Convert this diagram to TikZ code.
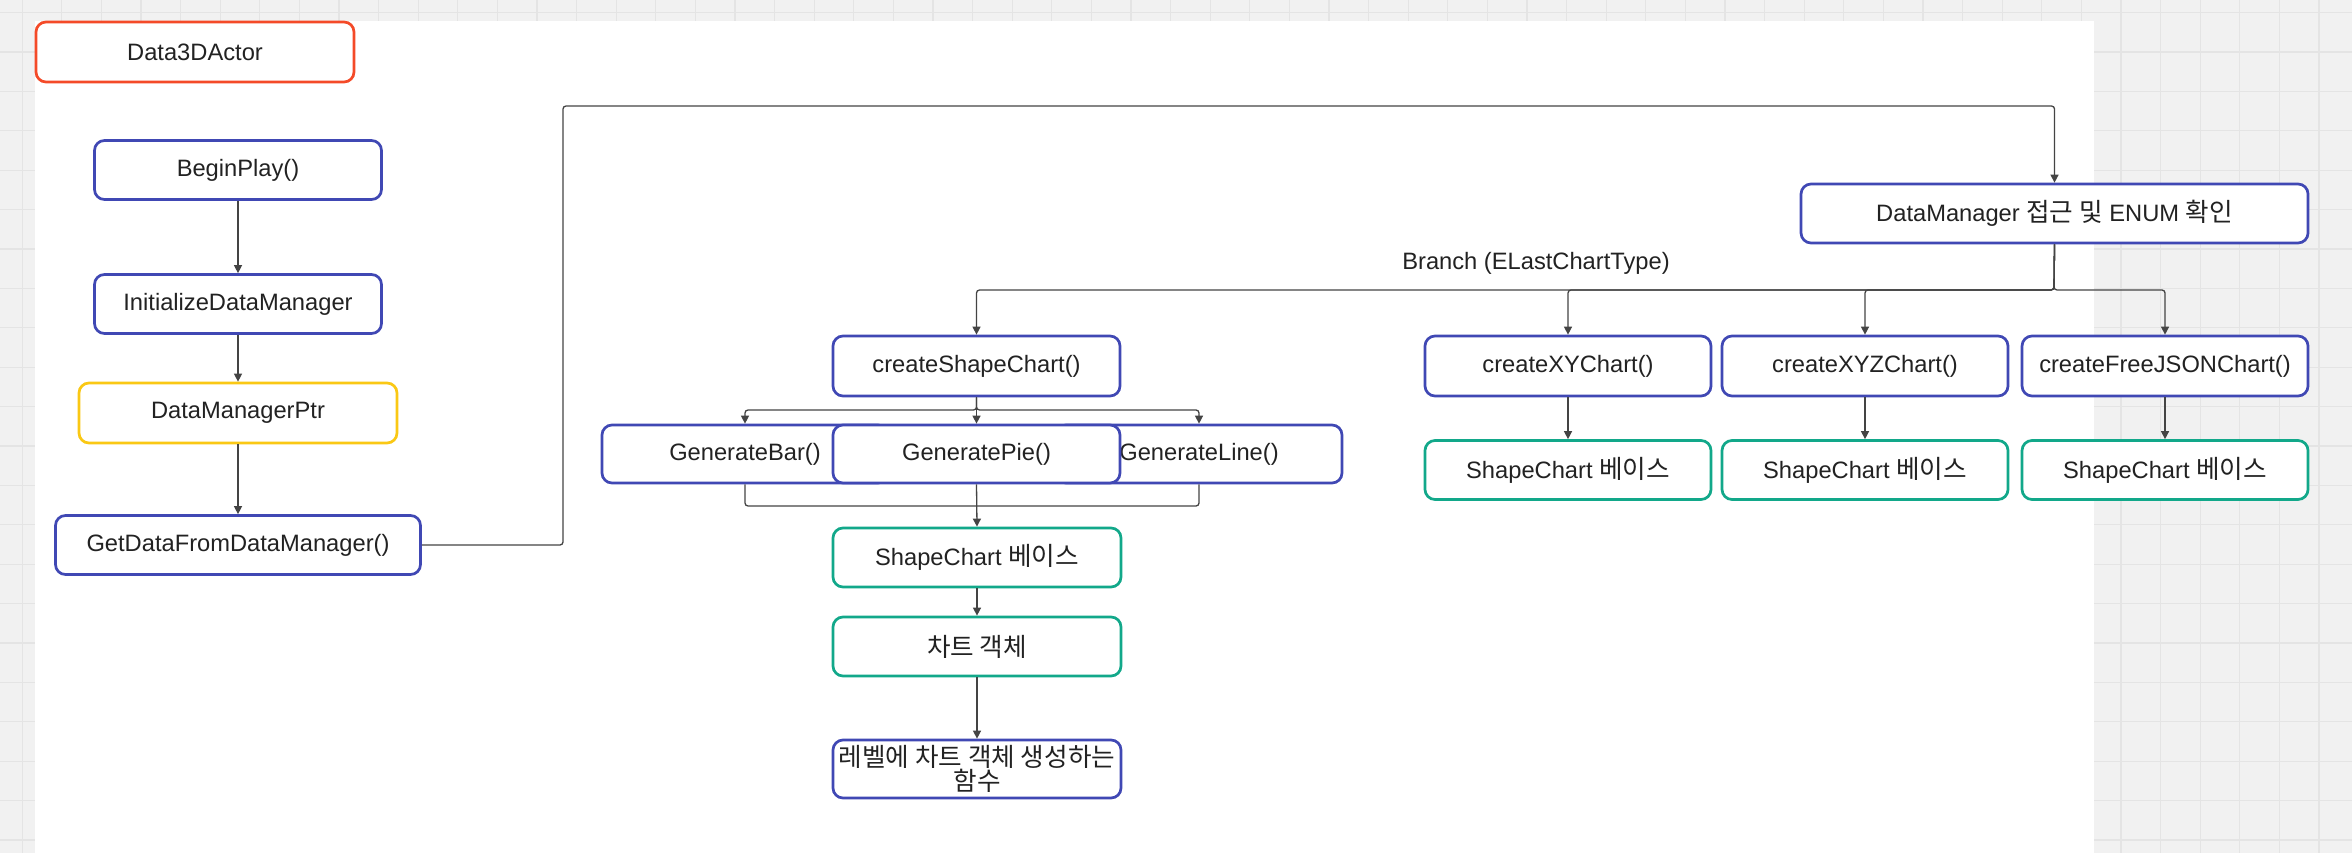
\documentclass[tikz,border=0pt]{standalone}
\usepackage{fontspec}
\setmainfont{Liberation Sans}
\newfontfamily\kr[Scale=1.08]{Noto Sans CJK KR}
\usetikzlibrary{arrows.meta}
\definecolor{cred}{HTML}{F44A28}
\definecolor{cblue}{HTML}{4048B4}
\definecolor{cyel}{HTML}{FAC814}
\definecolor{cgreen}{HTML}{12A88A}
\definecolor{cline}{HTML}{444444}
\definecolor{ctxt}{HTML}{222222}
\definecolor{bggrey}{HTML}{F1F1F1}
\definecolor{gridgrey}{HTML}{E4E4E4}
\tikzset{
  box/.style={draw, rounded corners=10pt, line width=2.7pt, fill=white,
    minimum height=59pt, inner sep=0pt, align=center, text=ctxt,
    font=\fontsize{23.7}{26}\selectfont},
  bluebox/.style={box, draw=cblue},
  redbox/.style={box, draw=cred},
  yelbox/.style={box, draw=cyel},
  greenbox/.style={box, draw=cgreen},
  conn/.style={draw=cline, line width=1.3pt, rounded corners=3pt,
    -{Triangle[length=8pt,width=8pt]}},
  plain/.style={draw=cline, line width=1.3pt, rounded corners=3pt},
}
\begin{document}
\begin{tikzpicture}[x=1pt,y=-1pt]
\useasboundingbox (0,0) rectangle (2352,853);
% background grid
\fill[bggrey] (0,0) rectangle (2352,853);
\foreach \i in {0,...,59} \draw[gridgrey, line width=1.2pt] (22.2+\i*39.6,0) -- (22.2+\i*39.6,853);
\foreach \j in {0,...,21} \draw[gridgrey, line width=1.2pt] (0,12.6+\j*39.4) -- (2352,12.6+\j*39.4);
% white panel
\fill[white] (35,21) rectangle (2094,853);

% left column
\node[redbox, minimum width=318pt, minimum height=60pt] (actor) at (195,52) {Data3DActor};
\node[bluebox, minimum width=287pt] (begin) at (238,170) {BeginPlay()};
\node[bluebox, minimum width=287pt] (init) at (238,304) {InitializeDataManager};
\node[yelbox, minimum width=318pt, minimum height=60pt] (ptr) at (238,413) {DataManagerPtr};
\node[bluebox, minimum width=365pt] (getdata) at (238,545) {GetDataFromDataManager()};

% data manager
\node[bluebox, minimum width=507pt] (dm) at (2054.5,213.5) {DataManager {\kr 접근 및} ENUM {\kr 확인}};

% chart creators
\node[bluebox, minimum width=287pt, minimum height=60pt] (csc) at (976.5,366) {createShapeChart()};
\node[bluebox, minimum width=286pt, minimum height=60pt] (cxy) at (1568,366) {createXYChart()};
\node[bluebox, minimum width=286pt, minimum height=60pt] (cxyz) at (1865,366) {createXYZChart()};
\node[bluebox, minimum width=286pt, minimum height=60pt] (cjson) at (2165,366) {createFreeJSONChart()};

\node[greenbox, minimum width=286pt] (sc1) at (1568,470) {ShapeChart {\kr 베이스}};
\node[greenbox, minimum width=286pt] (sc2) at (1865,470) {ShapeChart {\kr 베이스}};
\node[greenbox, minimum width=286pt] (sc3) at (2165,470) {ShapeChart {\kr 베이스}};

% generate row
\node[bluebox, minimum width=286pt, minimum height=58pt] (gbar) at (745,454) {GenerateBar()};
\node[bluebox, minimum width=286pt, minimum height=58pt] (gline) at (1199,454) {GenerateLine()};
\node[bluebox, minimum width=287pt, minimum height=58pt] (gpie) at (976.5,454) {GeneratePie()};

\node[greenbox, minimum width=288pt] (sc0) at (977,557.5) {ShapeChart {\kr 베이스}};
\node[greenbox, minimum width=288pt] (obj) at (977,646.5) {\kr 차트 객체};
\node[bluebox, minimum width=288pt, minimum height=58pt, font=\fontsize{23.7}{24}\selectfont] (lvl) at (977,769) {{\kr 레벨에 차트 객체 생성하는}\\{\kr 함수}};

% label
\node[text=ctxt, font=\fontsize{23.7}{26}\selectfont, inner sep=0pt] (blabel) at (1536,263) {Branch (ELastChartType)};

% helper coordinates
\coordinate (turn1) at (563,106);
\coordinate (br) at (2054,290);
\coordinate (split) at (976.5,410);
\coordinate (merge) at (977,506);

% connectors
\draw[conn] (begin) -- (init);
\draw[conn] (init) -- (ptr);
\draw[conn] (ptr) -- (getdata);
\draw[conn] (getdata.east) -| (turn1) -| (dm.north);

\draw[conn] (dm.south) -- (br) -| (csc.north);
\draw[conn] (dm.south) -- (br) -| (cxy.north);
\draw[conn] (dm.south) -- (br) -| (cxyz.north);
\draw[conn] (dm.south) -- (br) -| (cjson.north);

\draw[conn] (cxy) -- (sc1);
\draw[conn] (cxyz) -- (sc2);
\draw[conn] (cjson) -- (sc3);

\draw[conn] (csc.south) -- (split) -| (gbar.north);
\draw[conn] (csc.south) -- (split) -| (gline.north);
\draw[conn] (csc.south) -- (gpie.north);

\draw[plain] (gbar.south) |- (merge) -| (gline.south);
\draw[conn] (gpie.south) -- (sc0.north);
\draw[conn] (sc0) -- (obj);
\draw[conn] (obj) -- (lvl);
\end{tikzpicture}
\end{document}
